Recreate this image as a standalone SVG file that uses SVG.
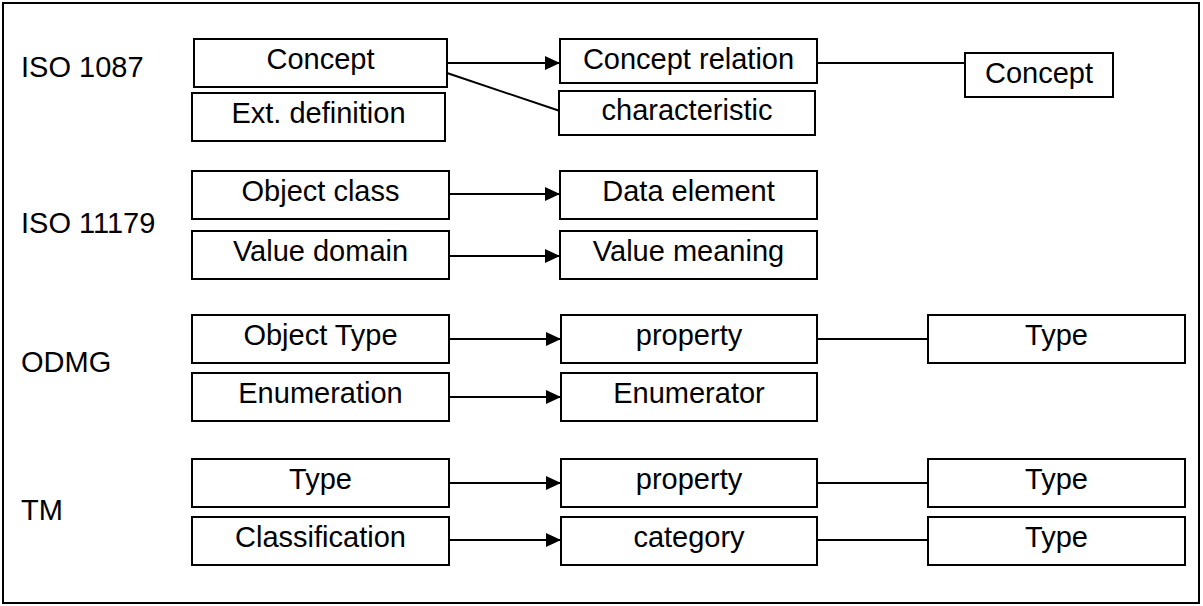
<svg xmlns="http://www.w3.org/2000/svg" width="1203" height="606" viewBox="0 0 1203 606">
<style>
.b{fill:#fff;stroke:#000;stroke-width:2}
.t{font-family:"Liberation Sans",Arial,sans-serif;font-size:29px;fill:#000;text-anchor:middle}
.l{font-family:"Liberation Sans",Arial,sans-serif;font-size:29px;fill:#000}
.c{stroke:#000;stroke-width:2;fill:none}
</style>
<defs>
<marker id="ah" markerWidth="15" markerHeight="14" refX="15" refY="7" orient="auto" markerUnits="userSpaceOnUse">
<path d="M0,0 L15,7 L0,14 Z" fill="#000"/>
</marker>
</defs>
<rect x="0" y="0" width="1203" height="606" fill="#fff"/>
<rect x="3" y="3" width="1196" height="600" fill="none" stroke="#000" stroke-width="2"/>
<g id="labels">
<text class="l" x="21" y="77">ISO 1087</text>
<text class="l" x="21" y="233">ISO 11179</text>
<text class="l" x="21" y="372">ODMG</text>
<text class="l" x="21" y="520">TM</text>
</g>
<g id="connectors">
<line class="c" x1="447" y1="63" x2="560" y2="63" marker-end="url(#ah)"/>
<line class="c" x1="447" y1="73" x2="560" y2="111"/>
<line class="c" x1="817" y1="63" x2="965" y2="63"/>
<line class="c" x1="449" y1="194" x2="560" y2="194" marker-end="url(#ah)"/>
<line class="c" x1="449" y1="256" x2="560" y2="256" marker-end="url(#ah)"/>
<line class="c" x1="449" y1="339" x2="561" y2="339" marker-end="url(#ah)"/>
<line class="c" x1="449" y1="397" x2="561" y2="397" marker-end="url(#ah)"/>
<line class="c" x1="817" y1="339" x2="928" y2="339"/>
<line class="c" x1="449" y1="483" x2="561" y2="483" marker-end="url(#ah)"/>
<line class="c" x1="449" y1="540" x2="561" y2="540" marker-end="url(#ah)"/>
<line class="c" x1="817" y1="483" x2="928" y2="483"/>
<line class="c" x1="817" y1="540" x2="928" y2="540"/>
</g>
<g id="n-concept"><rect class="b" x="194" y="39" width="253" height="48"/><text class="t" x="320.5" y="69">Concept</text></g>
<g id="n-extdef"><rect class="b" x="192" y="93" width="253" height="48"/><text class="t" x="318.5" y="123">Ext. definition</text></g>
<g id="n-conceptrel"><rect class="b" x="560" y="39" width="257" height="44"/><text class="t" x="688.5" y="69">Concept relation</text></g>
<g id="n-characteristic"><rect class="b" x="559" y="91" width="256" height="44"/><text class="t" x="687" y="120">characteristic</text></g>
<g id="n-concept2"><rect class="b" x="965" y="53" width="148" height="44"/><text class="t" x="1039" y="83">Concept</text></g>
<g id="n-objclass"><rect class="b" x="192" y="171" width="257" height="48"/><text class="t" x="320.5" y="201">Object class</text></g>
<g id="n-valdomain"><rect class="b" x="192" y="231" width="257" height="48"/><text class="t" x="320.5" y="261">Value domain</text></g>
<g id="n-dataelem"><rect class="b" x="560" y="171" width="257" height="48"/><text class="t" x="688.5" y="201">Data element</text></g>
<g id="n-valmeaning"><rect class="b" x="560" y="231" width="257" height="48"/><text class="t" x="688.5" y="261">Value meaning</text></g>
<g id="n-objtype"><rect class="b" x="192" y="315" width="257" height="48"/><text class="t" x="320.5" y="345">Object Type</text></g>
<g id="n-enumeration"><rect class="b" x="192" y="373" width="257" height="48"/><text class="t" x="320.5" y="403">Enumeration</text></g>
<g id="n-property1"><rect class="b" x="561" y="315" width="256" height="48"/><text class="t" x="689" y="345">property</text></g>
<g id="n-enumerator"><rect class="b" x="561" y="373" width="256" height="48"/><text class="t" x="689" y="403">Enumerator</text></g>
<g id="n-type1"><rect class="b" x="928" y="315" width="257" height="48"/><text class="t" x="1056.5" y="345">Type</text></g>
<g id="n-tmtype"><rect class="b" x="192" y="459" width="257" height="48"/><text class="t" x="320.5" y="489">Type</text></g>
<g id="n-classification"><rect class="b" x="192" y="517" width="257" height="48"/><text class="t" x="320.5" y="547">Classification</text></g>
<g id="n-property2"><rect class="b" x="561" y="459" width="256" height="48"/><text class="t" x="689" y="489">property</text></g>
<g id="n-category"><rect class="b" x="561" y="517" width="256" height="48"/><text class="t" x="689" y="547">category</text></g>
<g id="n-type2"><rect class="b" x="928" y="459" width="257" height="48"/><text class="t" x="1056.5" y="489">Type</text></g>
<g id="n-type3"><rect class="b" x="928" y="517" width="257" height="48"/><text class="t" x="1056.5" y="547">Type</text></g>
</svg>
